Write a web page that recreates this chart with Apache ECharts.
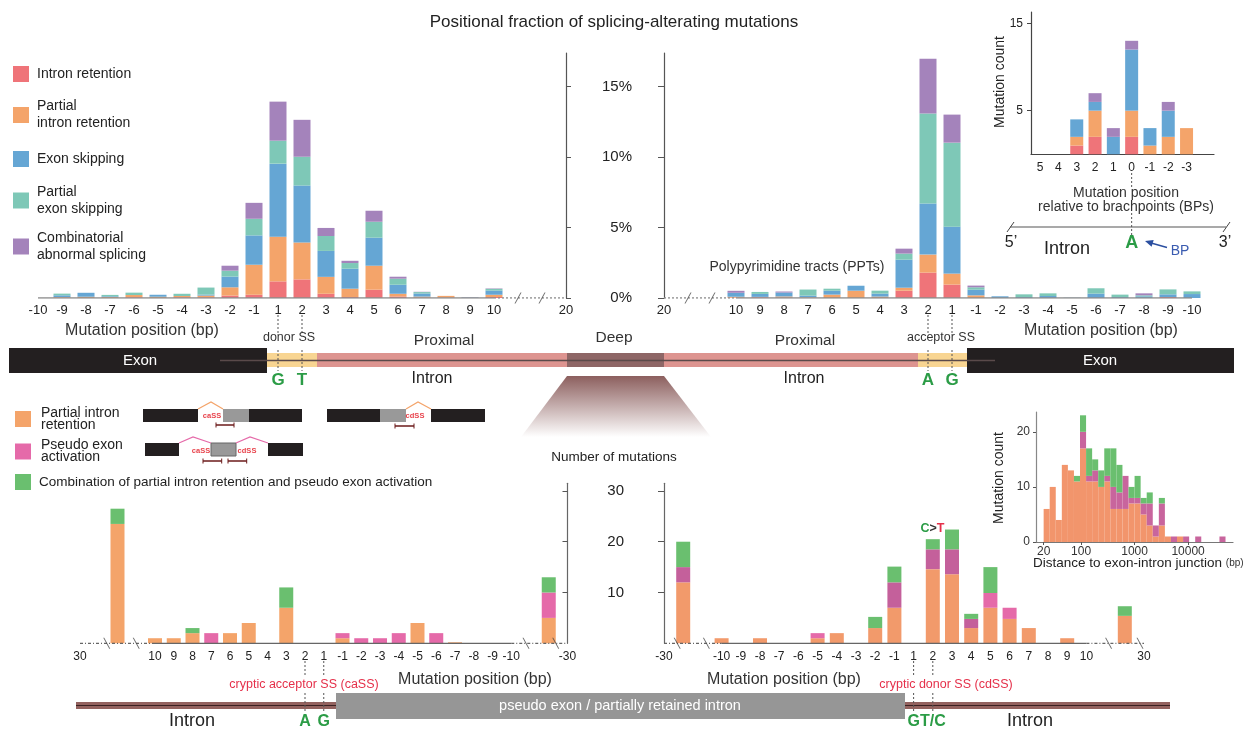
<!DOCTYPE html>
<html><head><meta charset="utf-8">
<script src="https://cdn.jsdelivr.net/npm/echarts@6/dist/echarts.min.js"></script>
<style>html,body{margin:0;padding:0;background:#fff}#c{width:1257px;height:729px}</style>
</head><body><div id="c"></div>
<script>
// ---------------- DATA ----------------
// Top-left: donor side, % of mutations (stack order: IR, PIR, ES, PES, CAS)
const donorCats = ['-10','-9','-8','-7','-6','-5','-4','-3','-2','-1','1','2','3','4','5','6','7','8','9','10','b1','b2','20'];
const donorIR  = [0,0.02,0,0,0.05,0,0.05,0.05,0.17,0.23,1.18,1.32,0.30,0.07,0.59,0.11,0.02,0.03,0,0.07,0,0,0];
const donorPIR = [0,0.05,0.09,0.07,0.16,0.09,0.09,0.12,0.59,2.13,3.17,2.62,1.20,0.59,1.70,0.19,0.08,0.12,0,0.16,0,0,0];
const donorES  = [0,0.12,0.28,0.05,0,0.14,0,0.07,0.76,2.08,5.18,4.04,1.84,1.42,1.99,0.64,0.22,0,0.03,0.30,0,0,0];
const donorPES = [0,0.12,0,0.10,0.17,0,0.16,0.50,0.42,1.18,1.63,2.04,1.06,0.40,1.13,0.43,0.10,0,0,0.12,0,0,0];
const donorCAS = [0,0,0,0,0,0,0,0,0.35,1.13,2.77,2.62,0.57,0.16,0.78,0.14,0.02,0,0.02,0.03,0,0,0];
// Top-right: acceptor side, %
const accCats = ['20','b1','b2','10','9','8','7','6','5','4','3','2','1','-1','-2','-3','-4','-5','-6','-7','-8','-9','-10'];
const accIR  = [0,0,0,0.02,0.05,0.02,0,0,0,0,0.52,1.80,0.95,0,0,0,0,0,0,0,0,0.07,0];
const accPIR = [0,0,0,0.07,0.03,0.09,0.05,0.24,0.52,0.10,0.21,1.28,0.78,0.19,0,0,0,0,0,0,0,0,0];
const accES  = [0,0,0,0.28,0.21,0.28,0.12,0.28,0.35,0.21,1.99,3.62,3.33,0.40,0.12,0.07,0.14,0.02,0.31,0.07,0.12,0.19,0.28];
const accPES = [0,0,0,0,0.14,0,0.43,0.14,0,0.21,0.43,6.38,5.96,0.17,0,0.19,0.19,0,0.38,0.17,0.07,0.35,0.19];
const accCAS = [0,0,0,0.14,0,0.07,0,0,0,0,0.35,3.90,1.99,0.12,0,0,0,0,0,0,0.14,0,0];
// Inset: branch point, counts
const bpCats = ['5','4','3','2','1','0','-1','-2','-3','end'];
const bpIR  = [0,0,1,2,0,2,0,0,0,0];
const bpPIR = [0,0,1,3,0,3,1,2,3,0];
const bpES  = [0,0,2,1,2,7,2,3,0,0];
const bpCAS = [0,0,0,1,1,1,0,1,0,0];
// Bottom-left: cryptic acceptor SS, counts (PIR, PEA, combination)
const caCats = ['30','b1','far','b2','10','9','8','7','6','5','4','3','2','1','-1','-2','-3','-4','-5','-6','-7','-8','-9','-10','b3','far2','-30'];
const caPIR  = [0,0,23.5,0,1,1,2,0,2,4,0,7,0,0,1,0,0,0,4,0,0.2,0,0,0,0,5,0];
const caPEA  = [0,0,0,0,0,0,0,2,0,0,0,0,0,0,1,1,1,2,0,2,0,0,0,0,0,5,0];
const caCOMB = [0,0,3,0,0,0,1,0,0,0,0,4,0,0,0,0,0,0,0,0,0,0,0,0,0,3,0];
// Bottom-right: cryptic donor SS, counts
const cdCats = ['-30','far','b1','-10','-9','-8','-7','-6','-5','-4','-3','-2','-1','1','2','3','4','5','6','7','8','9','10','b2','far2','30'];
const cdPIR  = [0,12,0,1,0,1,0,0,1,2,0,3,7,0,14.6,13.6,3,7,4.8,3,0,1,0,0,5.4,0];
const cdPEA  = [0,3,0,0,0,0,0,0,1,0,0,0,5,0,3.9,4.9,1.8,2.9,2.2,0,0,0,0,0,0,0];
const cdCOMB = [0,5,0,0,0,0,0,0,0,0,0,2.2,3.1,0,2,3.9,1,5.1,0,0,0,0,0,0,1.9,0];
// Inset histogram: distance to exon-intron junction, 30 log bins 20..50000 bp
const histPIR  = [6,10,4,14,13,11,17,11,11,10,11,6,6,6,7,7,5,3,1,3,1,0,1,0,0,0,0,0,0,0];
const histPEA  = [0,0,0,0,0,0,3,1,2,0,1,4,3,6,1,1,2,4,2,4,0,1,0,1,0,1,0,0,0,1];
const histCOMB = [0,0,0,0,0,1,3,5,2,3,5,7,5,0,2,4,1,2,0,1,0,0,0,0,0,0,0,0,0,0];
const histRange = [20, 50000];
// tick values
const pctTicks = [0,5,10,15];
const bpTicks = [5,15];
const cntTicks = [10,20,30];
const histYTicks = [0,10,20];
const histXTicks = [20,100,1000,10000];

// ---------------- STYLE ----------------
const FONT = '"Liberation Sans", Arial, Helvetica, sans-serif';
const COL = {ir:'#ef7479', pir:'#f4a46a', es:'#65a6d4', pes:'#7ec8b7', cas:'#a483bb',
  pea:'#e56aa9', peaDark:'#c4609b', comb:'#6abf6f', pir2:'#f29a6b', green:'#2b9c46', red:'#e5304a'};
const darkPinkAt = ['far','-1','2','3','4'];
const N1='Intron retention', N2='Partial\nintron retention', N3='Exon skipping', N4='Partial\nexon skipping', N5='Combinatorial\nabnormal splicing';
const M1='Partial intron\nretention', M2='Pseudo exon\nactivation', M3='Combination of partial intron retention and pseudo exon activation';

const chart = echarts.init(document.getElementById('c'), null, {renderer:'canvas'});
const numLab = v => /^-?\d+$/.test(v) ? v : '';
const axisTxt = {color:'#222', fontFamily:FONT};

function grid(left, top, width, height){ return {left, top, width, height, outerBoundsMode:'none', containLabel:false}; }
function stackBars(names, colors, arrays, ai, stack, width){
  return arrays.map((d,k)=>({type:'bar', name:names[k], xAxisIndex:ai, yAxisIndex:ai, stack, barWidth:width,
    data:d, itemStyle:{color:colors[k]}, silent:true, z:2}));
}
function baseLine(cats, from, to, ai, style){
  return {type:'line', xAxisIndex:ai, yAxisIndex:ai, data:cats.map((c,i)=>(i>=from&&i<=to)?0:null),
    symbol:'none', showSymbol:false, lineStyle:style, silent:true, z:5};
}
const SLASH='path://M0,11L6,0L7,0L1,11Z', BSLASH='path://M0,0L1,0L7,11L6,11Z';
function breaks(items, ai, path){
  return {type:'scatter', xAxisIndex:ai, yAxisIndex:ai, data:items, symbol:path, symbolSize:[7,11],
    itemStyle:{color:'#444'}, silent:true, z:6};
}
const solidTop = {color:'#8c8c8c', width:1.6}, dotTop = {color:'#8c8c8c', width:1.4, type:[2,2]};
const solidBot = {color:'#666', width:1.3}, dotBot = {color:'#666', width:1.2, type:[3,2,1,2]};

// histogram
const NB = histPIR.length, lmin=Math.log10(histRange[0]), lmax=Math.log10(histRange[1]);
const edges = Array.from({length:NB+1}, (_,i)=>Math.pow(10, lmin+(lmax-lmin)*i/NB));
function histSeries(counts, below, color, name){
  const data=[]; counts.forEach((v,i)=>{ if(v>0){ const b=below[i]; data.push([edges[i],edges[i+1],b,b+v]); } });
  return {type:'custom', name, xAxisIndex:5, yAxisIndex:5, data, encode:{x:[0,1], y:[2,3]}, itemStyle:{color}, silent:true,
    renderItem:(p,api)=>{ const a=api.coord([api.value(0),api.value(2)]), b=api.coord([api.value(1),api.value(3)]);
      return {type:'rect', shape:{x:a[0], y:b[1], width:b[0]-a[0], height:a[1]-b[1]}, style:{fill:api.visual('color')}}; }};
}
const histBelow2 = histPIR.map((v,i)=>v+histPEA[i]);

function catX(gi, cats){ return {gridIndex:gi, type:'category', data:cats, boundaryGap:false,
  axisLine:{show:false}, axisTick:{show:false}, splitLine:{show:false}}; }

const cdPEAitems = cdPEA.map((v,i)=> darkPinkAt.includes(cdCats[i]) ? {value:v, itemStyle:{color:COL.peaDark}} : v);

const legendTop = (name, top, left, size, lh, extraPad) => ({show:true, orient:'vertical', left, top, padding:0, itemGap:0,
  data:[name], itemWidth:16, itemHeight:16, icon:'rect', selectedMode:false,
  textStyle:{fontSize:size, lineHeight:lh, color:'#222', fontFamily:FONT, padding:[0,0,0,extraPad]}});

const option = {
  animation:false, backgroundColor:'#fff',
  legend:[
    legendTop(N1, 65.5, 13, 14, 17, 3), legendTop(N2, 98, 13, 14, 17, 3), legendTop(N3, 150.5, 13, 14, 17, 3),
    legendTop(N4, 183.5, 13, 14, 17, 3), legendTop(N5, 229.5, 13, 14, 17, 3),
    legendTop(M1, 406, 15, 14, 12, 5), legendTop(M2, 438.5, 15, 14, 12, 5), legendTop(M3, 474, 15, 13.5, 16, 3)
  ],
  grid:[ grid(38,53,528,245), grid(664,53,528,245), grid(1031,12,183,142.3),
         grid(80,483.3,487.5,160), grid(664,483.3,480,160), grid(1036,412,197,130) ],
  xAxis:[
    Object.assign(catX(0, donorCats), {axisLabel:Object.assign({interval:0, formatter:numLab, fontSize:13, margin:6}, axisTxt)}),
    Object.assign(catX(1, accCats), {axisLabel:Object.assign({interval:0, formatter:numLab, fontSize:13, margin:6}, axisTxt)}),
    {gridIndex:2, type:'category', data:bpCats, boundaryGap:true, axisLine:{show:true, lineStyle:{color:'#444', width:1.2}},
      axisTick:{show:false}, axisLabel:Object.assign({interval:0, formatter:numLab, fontSize:12, margin:7}, axisTxt)},
    Object.assign(catX(3, caCats), {axisLabel:Object.assign({interval:0, formatter:numLab, fontSize:12, margin:7}, axisTxt)}),
    Object.assign(catX(4, cdCats), {axisLabel:Object.assign({interval:0, formatter:numLab, fontSize:12, margin:7}, axisTxt)}),
    {gridIndex:5, type:'log', logBase:10, min:14.4, max:69000, splitLine:{show:false},
      axisLine:{show:true, lineStyle:{color:'#777', width:1.2}},
      axisTick:{show:true, length:3, customValues:histXTicks, lineStyle:{color:'#555'}},
      axisLabel:{customValues:histXTicks, formatter:v=>String(Math.round(v)), fontSize:12, margin:4, color:'#333', fontFamily:FONT}}
  ],
  yAxis:[
    {gridIndex:0, type:'value', position:'right', min:0, max:17.38, interval:5, splitLine:{show:false},
      axisLine:{show:true, lineStyle:{color:'#555', width:1.2}}, axisTick:{show:true, length:5, customValues:pctTicks, lineStyle:{color:'#555'}},
      axisLabel:{show:false}},
    {gridIndex:1, type:'value', position:'left', min:0, max:17.38, interval:5, splitLine:{show:false},
      axisLine:{show:true, lineStyle:{color:'#555', width:1.2}}, axisTick:{show:true, length:6, customValues:pctTicks, lineStyle:{color:'#555'}},
      axisLabel:Object.assign({customValues:pctTicks, formatter:v=>(v%5===0? v+'%':''), fontSize:15, margin:32}, axisTxt)},
    {gridIndex:2, type:'value', min:0, max:16.3, interval:5, splitLine:{show:false},
      axisLine:{show:true, lineStyle:{color:'#444', width:1.2}}, axisTick:{show:true, length:4, customValues:bpTicks, lineStyle:{color:'#444'}},
      axisLabel:Object.assign({customValues:bpTicks, formatter:v=>(bpTicks.includes(v)? String(v):''), fontSize:12, margin:8}, axisTxt)},
    {gridIndex:3, type:'value', position:'right', min:0, max:31.5, interval:10, splitLine:{show:false},
      axisLine:{show:true, lineStyle:{color:'#666', width:1.2}}, axisTick:{show:true, inside:true, length:5, customValues:cntTicks, lineStyle:{color:'#555'}},
      axisLabel:{show:false}},
    {gridIndex:4, type:'value', position:'left', min:0, max:31.5, interval:10, splitLine:{show:false},
      axisLine:{show:true, lineStyle:{color:'#666', width:1.2}}, axisTick:{show:true, length:6, customValues:cntTicks, lineStyle:{color:'#555'}},
      axisLabel:Object.assign({customValues:cntTicks, formatter:v=>(cntTicks.includes(v)? String(v):''), fontSize:15, margin:40}, axisTxt)},
    {gridIndex:5, type:'value', min:0, max:23.6, interval:10, splitLine:{show:false},
      axisLine:{show:true, lineStyle:{color:'#888', width:1.2}}, axisTick:{show:true, length:3, customValues:histYTicks, lineStyle:{color:'#555'}},
      axisLabel:{customValues:histYTicks, formatter:v=>(histYTicks.includes(v)? String(v):''), fontSize:12, margin:6, color:'#333', fontFamily:FONT}}
  ],
  series:[
    ...stackBars([N1,N2,N3,N4,N5],[COL.ir,COL.pir,COL.es,COL.pes,COL.cas],[donorIR,donorPIR,donorES,donorPES,donorCAS],0,'tl',17),
    ...stackBars([N1,N2,N3,N4,N5],[COL.ir,COL.pir,COL.es,COL.pes,COL.cas],[accIR,accPIR,accES,accPES,accCAS],1,'tr',17),
    ...stackBars([N1,N2,N3,N5],[COL.ir,COL.pir,COL.es,COL.cas],[bpIR,bpPIR,bpES,bpCAS],2,'bp',13),
    ...stackBars([M1,M2,M3],[COL.pir,COL.pea,COL.comb],[caPIR,caPEA,caCOMB],3,'bl',14),
    ...stackBars(['cdPIR','cdPEA','cdCOMB'],[COL.pir2,COL.pea,COL.comb],[cdPIR,cdPEAitems,cdCOMB],4,'br',14),
    baseLine(donorCats,0,19,0,solidTop), baseLine(donorCats,19,22,0,dotTop),
    baseLine(accCats,0,3,1,dotTop), baseLine(accCats,3,22,1,solidTop),
    baseLine(caCats,0,4,3,dotBot), baseLine(caCats,4,23,3,solidBot), baseLine(caCats,23,26,3,dotBot),
    baseLine(cdCats,0,3,4,dotBot), baseLine(cdCats,3,22,4,solidBot), baseLine(cdCats,22,25,4,dotBot),
    breaks([{value:['b1',0]},{value:['b2',0]}],0,SLASH),
    breaks([{value:['b1',0]},{value:['b2',0]}],1,SLASH),
    breaks([{value:['b1',0],symbolOffset:[8,0]},{value:['b2',0]},{value:['b3',0],symbolOffset:[-4,0]},{value:['far2',0],symbolOffset:[7,0]}],3,BSLASH),
    breaks([{value:['far',0],symbolOffset:[-6,0]},{value:['b1',0],symbolOffset:[4,0]},{value:['b2',0],symbolOffset:[3,0]},{value:['30',0],symbolOffset:[-4,0]}],4,BSLASH),
    histSeries(histPIR, histPIR.map(()=>0), '#f2956c', 'hPIR'),
    histSeries(histPEA, histPIR, '#c8659d', 'hPEA'),
    histSeries(histCOMB, histBelow2, '#6abf6f', 'hCOMB')
  ]
};
chart.setOption(option);

// ---------------- ANNOTATIONS ----------------
const G=[];
const T=(x,y,text,o={})=>G.push({type:'text', x, y, rotation:o.rot||0, silent:true, z:10,
  style:{text, fill:o.fill||'#222', fontSize:o.size||14, fontFamily:FONT, fontWeight:o.weight||'normal',
    align:o.align||'center', verticalAlign:'middle', rich:o.rich}});
const R=(x,y,w,h,fill,o={})=>G.push({type:'rect', silent:true, z:o.z||1, shape:{x,y,width:w,height:h},
  style:{fill, stroke:o.stroke||null, lineWidth:o.lw||0}});
const L=(x1,y1,x2,y2,stroke,lw,dash,z)=>G.push({type:'line', silent:true, z:z||3, shape:{x1,y1,x2,y2},
  style:{stroke, lineWidth:lw||1, lineDash:dash||null}});
const PL=(points,stroke,lw)=>G.push({type:'polyline', silent:true, z:3, shape:{points}, style:{stroke, lineWidth:lw||1, fill:null}});
const PG=(points,fill)=>G.push({type:'polygon', silent:true, z:1, shape:{points}, style:{fill}});
const X=(ai,cat)=>chart.convertToPixel({xAxisIndex:ai}, cat);
const dot=[2,2];

// title
T(614,22,'Positional fraction of splicing-alterating mutations',{size:17});

// BP inset annotations
T(1000,82,'Mutation count',{size:14, rot:Math.PI/2});
T(1126,193,'Mutation position',{size:14, fill:'#333'});
T(1126,207,'relative to brachpoints (BPs)',{size:14, fill:'#333'});
const xA = X(2,'0');
L(xA,173,xA,187,'#555',1,dot); L(xA,213,xA,235,'#555',1,dot);
L(1010,227,1226,227,'#555',1.2);
L(1007,232,1014,222,'#444',1); L(1223,232,1230,222,'#444',1);
T(1011,243,'5\u2019',{size:16});
T(1067,249,'Intron',{size:18});
T(xA,243,'A',{size:18, weight:'bold', fill:COL.green});
T(1225,243,'3\u2019',{size:16});
L(1167,247.5,1152,243.3,'#2b4fa0',1.5);
PG([[1145,241],[1153.7,240],[1151.6,246.7]],'#2b4fa0');
T(1180,251,'BP',{size:14, fill:'#3a5bb0'});

// middle gene band
T(142,331,'Mutation position (bp)',{size:16, fill:'#333'});
T(1101,331,'Mutation position (bp)',{size:16, fill:'#333'});
R(9,348,258,25,'#231f20');
R(267,353,50,14,'#f8d592');
R(317,353,250,14,'#dd9490');
R(567,353,97,14,'#8e6666');
R(664,353,254,14,'#dd9490');
R(918,353,49,14,'#f8d592');
R(967,348,267,25,'#231f20');
L(220,360.5,995,360.5,'#5a4a4a',1.3);
T(140,361,'Exon',{size:15, fill:'#fff'});
T(1100,361,'Exon',{size:15, fill:'#fff'});
T(289,338,'donor SS',{size:12.5, fill:'#333'});
T(941,338,'acceptor SS',{size:12.5, fill:'#333'});
T(444,341,'Proximal',{size:15.5, fill:'#333'});
T(805,341,'Proximal',{size:15.5, fill:'#333'});
T(614,338,'Deep',{size:15.5, fill:'#333'});
T(432,379,'Intron',{size:16, fill:'#222'});
T(804,379,'Intron',{size:16, fill:'#222'});
[[0,'1','G'],[0,'2','T'],[1,'2','A'],[1,'1','G']].forEach(([ai,c,s])=>{
  const x=X(ai,c); L(x,315,x,333,'#555',1,dot); L(x,350,x,371,'#555',1,dot);
  T(x,380,s,{size:17, weight:'bold', fill:COL.green});
});
T(797,267,'Polypyrimidine tracts (PPTs)',{size:14, fill:'#333'});
PG([[567,376],[664,376],[711,437],[521,437]], new echarts.graphic.LinearGradient(0,0,0,1,[{offset:0,color:'#8c5f5e'},{offset:1,color:'#ffffff'}]));

// bottom legend diagrams
const BLK='#231f20', GRY='#999999', BR='#6b1a1a';
const bracket=(x1,x2,y)=>{ L(x1,y,x2,y,BR,1.5); L(x1,y-2.5,x1,y+2.5,BR,1); L(x2,y-2.5,x2,y+2.5,BR,1); };
R(143,409,55,13,BLK); R(223,409,26,13,GRY); R(249,409,53,13,BLK);
PL([[198,409],[211,402],[223,409]],COL.pir,1.2);
T(212,416,'caSS',{size:7.5, weight:'bold', fill:'#e8434c'});
bracket(216,234,425);
R(327,409,53,13,BLK); R(380,409,26,13,GRY); R(431,409,54,13,BLK);
PL([[406,409],[418,402],[431,409]],COL.pir,1.2);
T(415,416,'cdSS',{size:7.5, weight:'bold', fill:'#e8434c'});
bracket(395,414,426);
R(145,443,34,13,BLK); R(211,443,25,13,GRY,{stroke:'#666', lw:1}); R(268,443,35,13,BLK);
PL([[179,443],[193,437],[211,443]],COL.pea,1.2);
PL([[236,443],[250,437],[268,443]],COL.pea,1.2);
T(201,451,'caSS',{size:7.5, weight:'bold', fill:'#e8434c'});
T(247,451,'cdSS',{size:7.5, weight:'bold', fill:'#e8434c'});
bracket(203,221.7,461); bracket(228,246.7,461);
T(614,457,'Number of mutations',{size:13.5, fill:'#222'});

// histogram inset texts
T(999,478,'Mutation count',{size:14, rot:Math.PI/2});
T(1033,563,'{a|Distance to exon-intron junction} {b|(bp)}',{align:'left', size:13.5,
  rich:{a:{fontSize:13.5, fill:'#222', fontFamily:FONT}, b:{fontSize:10, fill:'#333', fontFamily:FONT}}});

// C>T
T(932.5,529,'{g|C}{k|>}{r|T}',{rich:{g:{fill:COL.green, fontWeight:'bold', fontSize:12.5, fontFamily:FONT},
  k:{fill:'#333', fontWeight:'bold', fontSize:12.5, fontFamily:FONT}, r:{fill:COL.red, fontWeight:'bold', fontSize:12.5, fontFamily:FONT}}});

// bottom texts and band
T(304,685,'cryptic acceptor SS (caSS)',{size:12.5, fill:COL.red});
T(475,680,'Mutation position (bp)',{size:16, fill:'#333'});
T(784,680,'Mutation position (bp)',{size:16, fill:'#333'});
T(946,685,'cryptic donor SS (cdSS)',{size:12.5, fill:COL.red});
R(76,702,1094,7,'#93625f',{z:1});
L(76,705.5,1170,705.5,'#3b2222',1,null,1);
R(336,693,569,26,'#969696',{z:2});
T(620,706,'pseudo exon / partially retained intron',{size:14.5, fill:'#fff'});
T(192,721,'Intron',{size:18});
T(1030,721,'Intron',{size:18});
[[3,'2','A'],[3,'1','G']].forEach(([ai,c,s])=>{ const x=X(ai,c);
  L(x,661,x,677,'#555',1,dot); L(x,693,x,713,'#555',1,dot);
  T(x,722,s,{size:16, weight:'bold', fill:COL.green}); });
const x1=X(4,'1'), x2=X(4,'2');
[x1,x2].forEach(x=>{ L(x,661,x,675,'#555',1,dot); L(x,693,x,711,'#555',1,dot); });
T(x1-6,722,'GT/C',{size:16, weight:'bold', fill:COL.green, align:'left'});

chart.setOption({graphic:{elements:G}});
</script></body></html>
